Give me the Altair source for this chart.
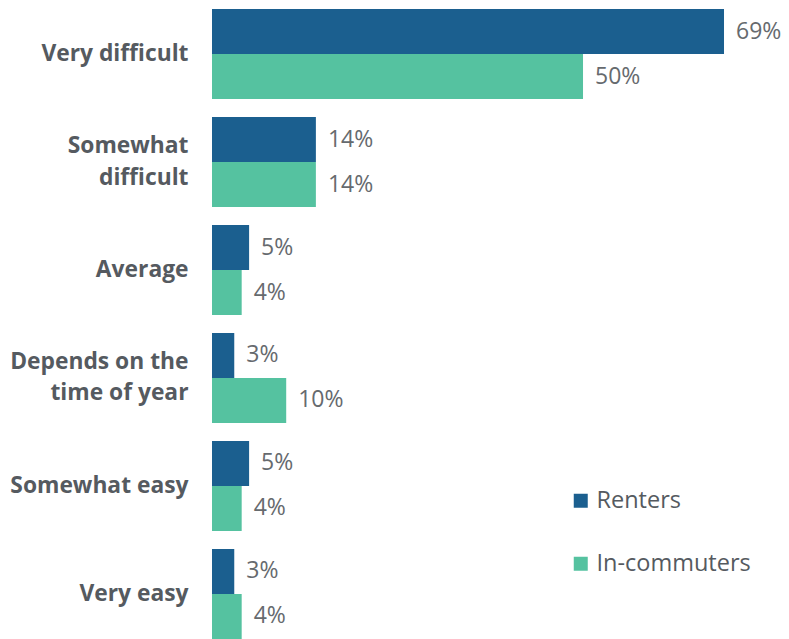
import altair as alt
import pandas as pd

categories = ["Very difficult", "Somewhat difficult", "Average",
              "Depends on the time of year", "Somewhat easy", "Very easy"]
label_lines = {
    "Somewhat difficult": ["Somewhat", "difficult"],
    "Depends on the time of year": ["Depends on the", "time of year"],
}
series = ["Renters", "In-commuters"]
renters = [69, 14, 5, 3, 5, 3]
incommuters = [50, 14, 4, 10, 4, 4]
colors = ["#1b5f8f", "#55c2a0"]

rows = []
for c, r, i in zip(categories, renters, incommuters):
    rows.append({"category": c, "series": series[0], "value": r})
    rows.append({"category": c, "series": series[1], "value": i})
df = pd.DataFrame(rows)
df["label"] = df["value"].astype(str) + "%"

expr_parts = []
for k, v in label_lines.items():
    expr_parts.append("datum.label == '%s' ? [%s]" % (k, ", ".join("'%s'" % s for s in v)))
label_expr = " : ".join(expr_parts) + " : datum.label"
multi_test = " || ".join("datum.value == '%s'" % k for k in label_lines)

FONT = "Open Sans"

y = alt.Y("category:N", sort=categories, title=None,
          scale=alt.Scale(paddingInner=18 / 108, paddingOuter=0.0093),
          axis=alt.Axis(labelExpr=label_expr, labelFont=FONT, labelFontSize=22.8,
                        labelFontWeight="bold", labelColor="#555a60", labelPadding=24,
                        labelLineHeight=31.5, ticks=False, domain=False, labelLimit=300,
                        labelOffset={"condition": {"test": multi_test, "value": -16},
                                     "value": 0}))
yoff = alt.YOffset("series:N", sort=series,
                   scale=alt.Scale(paddingInner=0, paddingOuter=0))
x = alt.X("value:Q", scale=alt.Scale(domain=[0, 74.39], nice=False), axis=None)

bars = alt.Chart(df).mark_bar().encode(
    x=x, y=y, yOffset=yoff,
    color=alt.Color("series:N", sort=series,
                    scale=alt.Scale(domain=series, range=colors),
                    legend=alt.Legend(title=None, orient="none", legendX=357, legendY=481,
                                      symbolType="square", symbolSize=196,
                                      symbolStrokeWidth=0, labelFont=FONT,
                                      labelFontSize=23.5, labelColor="#555a60",
                                      labelOffset=4, rowPadding=38, padding=0)),
)
text = alt.Chart(df).mark_text(align="left", baseline="middle", dx=12,
                               font=FONT, fontSize=23, color="#666a6e").encode(
    x=x, y=y, yOffset=yoff, text="label:N")

chart = (bars + text).properties(
    width=552, height=632,
    padding={"left": 204, "top": 0, "right": 17, "bottom": 0},
    autosize=alt.AutoSizeParams(type="none"),
).configure_view(stroke=None)

chart.save("out.html", embed_options={"renderer": "svg", "actions": False})
